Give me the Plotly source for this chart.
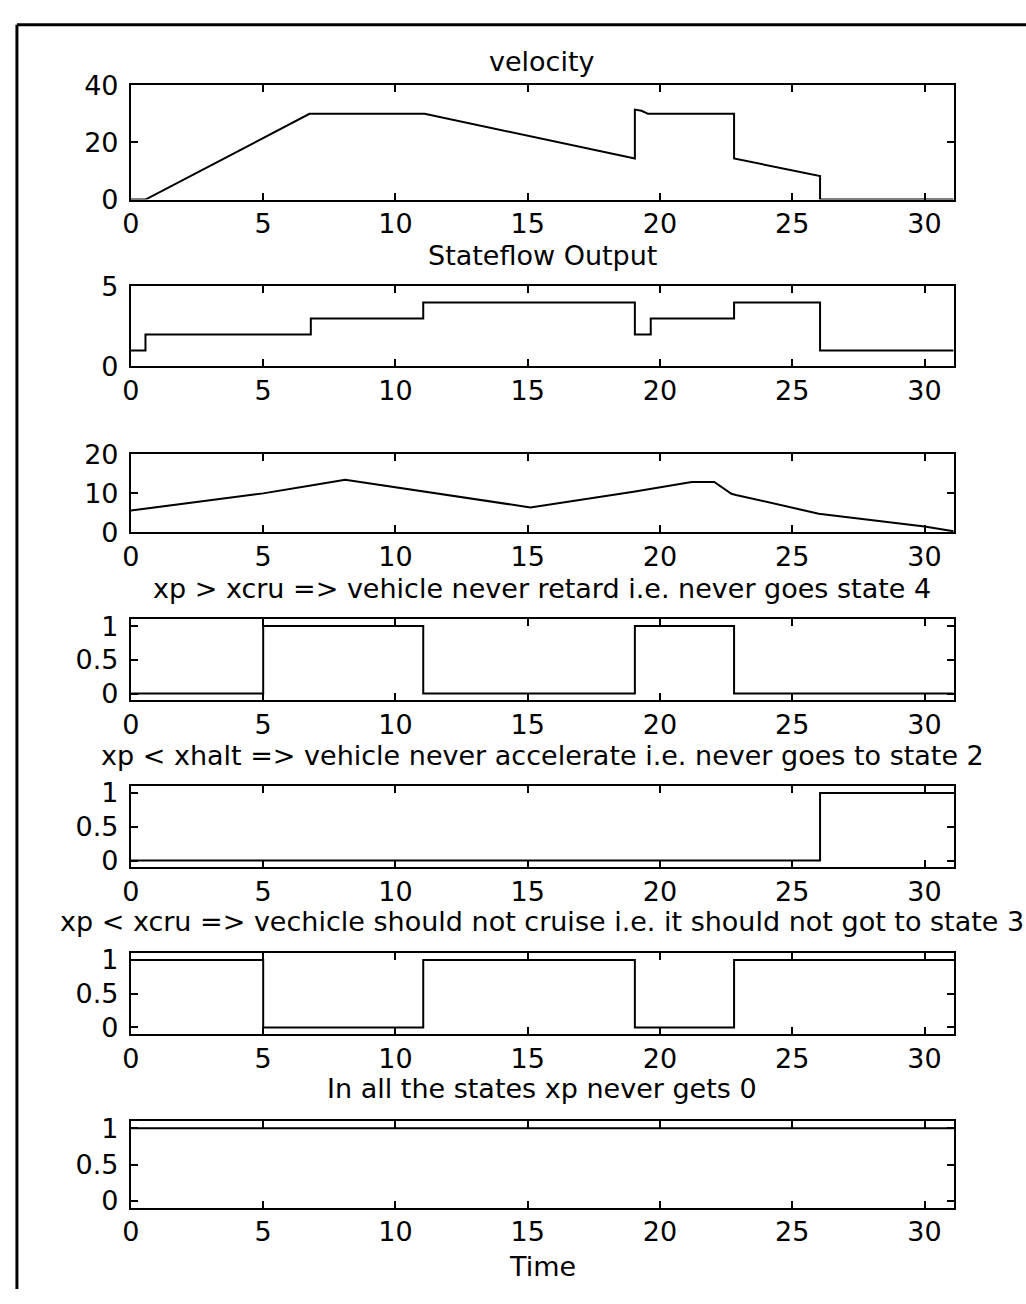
import plotly.graph_objects as go

# ---------------- data ----------------
x_ticks = [0, 5, 10, 15, 20, 25, 30]
x_tick_labels = ["0", "5", "10", "15", "20", "25", "30"]

t_vel = [0, 0.55, 6.75, 11.1, 19.05, 19.05, 19.3, 19.55, 22.8, 22.8, 26.05, 26.05, 31.1]
v_vel = [0, 0, 30, 30, 14.4, 31.5, 31.1, 30, 30, 14.4, 8.2, 0, 0]

t_state = [0, 0.55, 6.8, 11.05, 19.05, 19.65, 22.8, 26.05, 31.1]
v_state = [1, 2, 3, 4, 2, 3, 4, 1, 1]

t_xp = [0, 5, 6.8, 8.1, 15.1, 19.0, 21.2, 22.05, 22.7, 22.87, 26.0, 30.0, 31.1]
v_xp = [5.6, 10.0, 12.0, 13.5, 6.4, 10.4, 12.9, 12.9, 9.9, 9.6, 4.8, 1.5, 0.3]

t_retard = [0, 5.0, 11.05, 19.05, 22.8, 31.1]
v_retard = [0, 1, 0, 1, 0, 0]

t_accel = [0, 26.05, 31.1]
v_accel = [0, 1, 1]

t_cruise = [0, 5.0, 11.05, 19.05, 22.8, 31.1]
v_cruise = [1, 0, 1, 0, 1, 1]

t_nonzero = [0, 31.1]
v_nonzero = [1, 1]

titles = [
    "velocity",
    "Stateflow Output",
    "",
    "xp > xcru => vehicle never retard i.e. never goes state 4",
    "xp < xhalt => vehicle never accelerate i.e. never goes to state 2",
    "xp < xcru => vechicle should not cruise i.e. it should not got to state 3",
    "In all the states xp never gets 0",
]
x_title = "Time"

y_ranges = [[0, 40], [0, 5], [0, 20], [-0.1, 1.1], [-0.1, 1.1], [-0.1, 1.1], [-0.1, 1.1]]
y_ticks = [[0, 20, 40], [0, 5], [0, 10, 20], [0, 0.5, 1], [0, 0.5, 1], [0, 0.5, 1], [0, 0.5, 1]]
y_tick_labels = [["0", "20", "40"], ["0", "5"], ["0", "10", "20"],
                 ["0", "0.5", "1"], ["0", "0.5", "1"], ["0", "0.5", "1"], ["0", "0.5", "1"]]

series = [
    (t_vel, v_vel, "linear"),
    (t_state, v_state, "hv"),
    (t_xp, v_xp, "linear"),
    (t_retard, v_retard, "hv"),
    (t_accel, v_accel, "hv"),
    (t_cruise, v_cruise, "hv"),
    (t_nonzero, v_nonzero, "hv"),
]

# ---------------- layout (pixels) ----------------
W, H = 1026, 1304
X0, X1 = 123, 953
panels = [(71, 188), (277, 359), (449, 529), (618, 701), (789, 872), (960, 1043), (1132, 1221)]
title_y = [47, 245, None, 586, 757, 928, 1099]
FONT = "DejaVu Sans"
FS = 27

def py(p):
    return 1 - p / H

fig = go.Figure()
layout = dict(
    width=W, height=H,
    margin=dict(l=0, r=0, t=0, b=0),
    paper_bgcolor="white", plot_bgcolor="white",
    showlegend=False,
    font=dict(family=FONT, size=FS, color="black"),
    annotations=[], shapes=[],
)

for i, ((tt, vv, shp), (top, bot)) in enumerate(zip(series, panels)):
    n = i + 1
    xa = "x" if n == 1 else f"x{n}"
    ya = "y" if n == 1 else f"y{n}"
    fig.add_trace(go.Scatter(x=tt, y=vv, mode="lines", line=dict(color="black", width=2, shape=shp),
                             xaxis=xa, yaxis=ya, hoverinfo="skip"))
    axcommon = dict(showline=True, linecolor="black", linewidth=2, mirror="ticks",
                    ticks="inside", ticklen=7, tickwidth=2, tickcolor="black",
                    showgrid=False, zeroline=False, fixedrange=True,
                    tickfont=dict(family=FONT, size=FS, color="black"))
    layout["xaxis" if n == 1 else f"xaxis{n}"] = dict(
        domain=[X0 / W, X1 / W], range=[0, 31.1], anchor=ya,
        tickvals=x_ticks, ticktext=x_tick_labels, ticklabelstandoff=-1, **axcommon)
    layout["yaxis" if n == 1 else f"yaxis{n}"] = dict(
        domain=[py(bot), py(top)], range=y_ranges[i], anchor=xa,
        tickvals=y_ticks[i], ticktext=y_tick_labels[i], ticklabelstandoff=5, **axcommon)
    if titles[i]:
        layout["annotations"].append(dict(
            text=titles[i], xref="paper", yref="paper", x=(X0 + X1) / 2 / W, y=py(title_y[i]),
            xanchor="center", yanchor="middle", showarrow=False,
            font=dict(family=FONT, size=FS, color="black")))

layout["annotations"].append(dict(
    text=x_title, xref="paper", yref="paper", x=(X0 + X1) / 2 / W, y=py(1281),
    xanchor="center", yanchor="middle", showarrow=False,
    font=dict(family=FONT, size=FS, color="black")))

# figure frame (top and left edges)
layout["shapes"].append(dict(type="line", xref="paper", yref="paper",
                             x0=8 / W, x1=1, y0=py(9), y1=py(9), line=dict(color="black", width=3)))
layout["shapes"].append(dict(type="line", xref="paper", yref="paper",
                             x0=8 / W, x1=8 / W, y0=py(9), y1=0, line=dict(color="black", width=3)))

fig.update_layout(**layout)
fig.write_html("out.html", config={"displayModeBar": False},
               post_script="document.body.style.margin='0px';document.body.style.overflow='hidden';")
